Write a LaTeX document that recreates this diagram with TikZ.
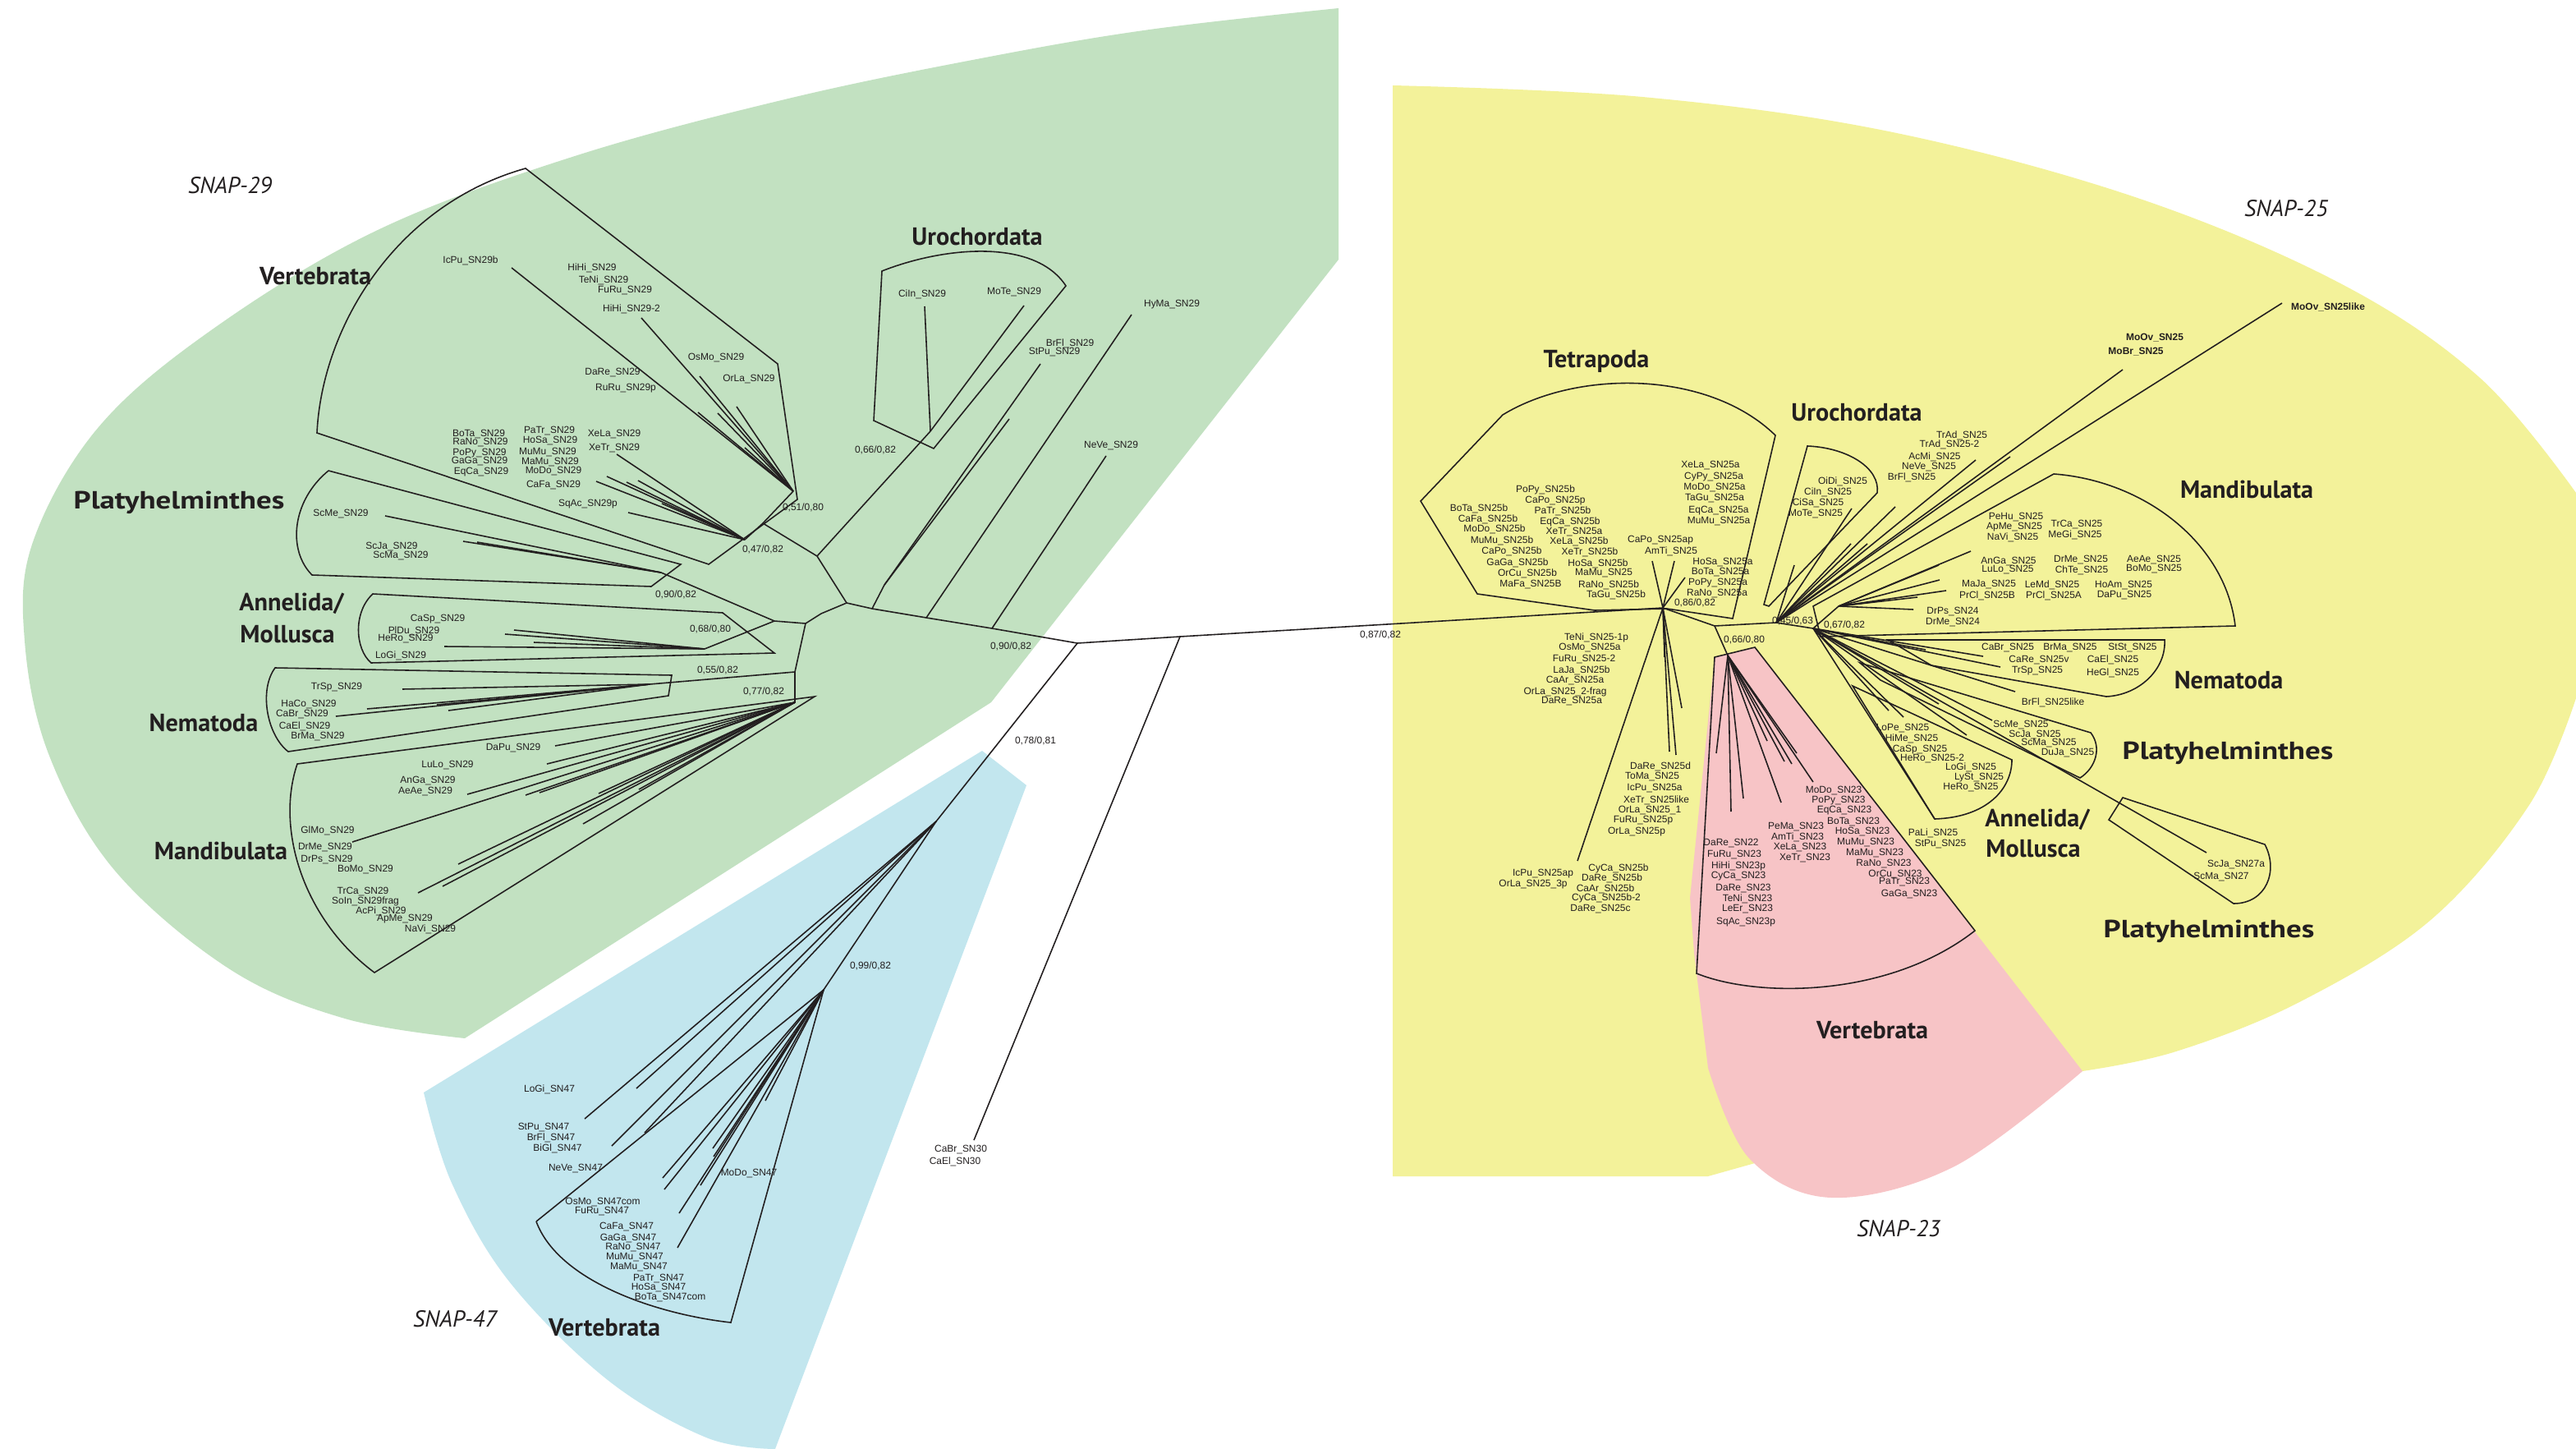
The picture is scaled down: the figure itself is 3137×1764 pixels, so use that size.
\documentclass[tikz,border=0pt]{standalone}
\usepackage{fontspec}
\setmainfont{Liberation Sans}
\newfontfamily\ptsans{PT Sans}
\newcommand\leaffont{\fontsize{3.4}{3.6}\selectfont}
\newcommand\grpfont{\ptsans\bfseries\fontsize{8.6}{9}\selectfont}
\newcommand\snapfont{\ptsans\itshape\fontsize{8}{9}\selectfont}
\definecolor{gfill}{HTML}{C2E1C1}
\definecolor{yfill}{HTML}{F3F29A}
\definecolor{bfill}{HTML}{C2E6EE}
\definecolor{pfill}{HTML}{F7C4C6}
\definecolor{ink}{HTML}{231F20}
\tikzset{
  br/.style={draw=ink, line width=0.45pt, line join=round},
  hull/.style={draw=ink, line width=0.45pt},
  leaf/.style={font=\leaffont, text=ink, inner sep=0pt},
  boldleaf/.style={font=\leaffont\bfseries, text=ink, inner sep=0pt},
  grp/.style={font=\grpfont, text=ink, inner sep=0pt},
  snaplab/.style={font=\snapfont, text=ink, inner sep=0pt},
  supp/.style={font=\leaffont, text=ink, inner sep=0pt},
}
\newcommand\fan[3]{\foreach \x/\y [count=\i] in {#3} {\coordinate (#2\i) at (\x,\y); \draw[br] (#1) -- (#2\i);}}
\newcommand\leaves[2]{\foreach \x/\y/\t [count=\i] in {#2} {\node[leaf] (#1\i) at (\x,\y) {\t};}}
\begin{document}
\begin{tikzpicture}[x=0.01cm,y=-0.01cm]
\useasboundingbox (0,0) rectangle (3137,1764);
% ---------------- backgrounds
\fill[gfill] (566,1264) -- plot[smooth,tension=0.6] coordinates {(566,1264) (420,1240) (280,1180) (140,1060) (60,920) (30,780) (40,660) (120,520) (260,400) (460,280) (700,190) (960,120) (1200,70) (1400,36) (1630,10)} -- (1630,316) -- (1207,855) -- cycle;
\fill[yfill] (1696,1432) -- (1696,104) -- plot[smooth,tension=0.6] coordinates {(1696,104) (2000,118) (2300,160) (2600,240) (2850,345) (3020,460) (3137,600)} -- (3137,850) -- plot[smooth,tension=0.6] coordinates {(3137,850) (3080,980) (2960,1120) (2800,1220) (2650,1280) (2536,1304)} -- (2080,1432) -- cycle;
\fill[bfill] (1196,914) -- (1250,956) -- (944,1764) -- plot[smooth,tension=0.6] coordinates {(944,1764) (860,1750) (740,1680) (620,1560) (550,1440) (516,1330)} -- cycle;
\fill[pfill] (2088,800) -- (2137,788) -- (2536,1304) -- plot[smooth,tension=0.6] coordinates {(2536,1304) (2380,1420) (2230,1458) (2130,1410) (2080,1300)} -- (2063,1160) -- (2058,1093) -- cycle;
% ---------------- green backbone
\coordinate (A) at (1312,783);
\coordinate (gNe) at (1208,765);
\coordinate (gHy) at (1128,752);
\coordinate (gBr) at (1062,741);
\coordinate (gBr2) at (1077,712);
\coordinate (G0) at (1031,734);
\coordinate (gL) at (1000,747);
\coordinate (G2) at (981,759);
\coordinate (N1) at (995,677);
\coordinate (U) at (1133,525);
\coordinate (VR) at (929,637);
\coordinate (V1) at (907,657);
\coordinate (V2) at (966,598);
\coordinate (GA) at (943,756);
\coordinate (P) at (805,697);
\coordinate (An) at (858,790);
\coordinate (Nm) at (968,818);
\coordinate (Ns) at (791,833);
\coordinate (M0) at (968,855);
\draw[br] (A) -- (gNe) -- (gHy) -- (gBr) -- (G0) -- (gL) -- (G2);
\draw[br] (G0) -- (N1) -- (U);
\draw[br] (N1) -- (VR) -- (V1);
\draw[br] (VR) -- (V2);
\draw[br] (gBr) -- (gBr2);
\draw[br] (G2) -- (GA) -- (P);
\draw[br] (GA) -- (An);
\draw[br] (G2) -- (Nm) -- (M0);
\draw[br] (Nm) -- (Ns);
\fan{V2}{va}{623/326,781/387,852/458,897/495,850/502,874/503,907/545}
\fan{V1}{vb}{751/553,777/585,763/587,739/580,726/586,765/624,806/613}
\fan{U}{ua}{1126/373,1247/372}
\fan{gBr2}{bra}{1267/443,1229/510}
\fan{gHy}{hya}{1378/383}
\fan{gNe}{nea}{1347/555}
\fan{P}{pa}{469/628,564/659,581/660}
\fan{An}{ana}{626/767,615/772,650/782,541/787}
\fan{Ns}{nsa}{490/839,447/863,532/858,409/872,546/865}
\fan{M0}{ma}{676/908,666/930,569/967,640/968,657/965,729/966,429/1025,558/1052,539/1079,509/1087,710/1003,778/961}
% green hulls
\draw[hull] (386,527) .. controls (392,400) and (480,250) .. (640,205) -- (947,443) -- (971,608) -- (863,687) -- cycle;
\draw[hull] (400,573) -- (829,687) -- (793,714) -- (380,700) .. controls (350,670) and (355,610) .. (400,573);
\draw[hull] (880,746) -- (454,723) .. controls (430,745) and (432,790) .. (452,807) -- (943,795) -- cycle;
\draw[hull] (818,822) -- (335,813) .. controls (315,840) and (325,895) .. (351,915) -- (814,847) -- cycle;
\draw[hull] (992,848) -- (362,930) .. controls (335,1010) and (370,1120) .. (456,1184) -- cycle;
\draw[hull] (1074,330) .. controls (1150,300) and (1260,290) .. (1298,348) -- (1137,546) -- (1064,512) -- cycle;
% ---------------- centre, SN30, blue
\coordinate (B) at (1437,775);
\coordinate (BR) at (1140,1000);
\coordinate (VB) at (1003,1205);
\draw[br] (A) -- (B);
\draw[br] (A) -- (BR) -- (VB);
\fan{B}{cb}{1186/1388}
\fan{BR}{bra}{712/1362,775/1325,785/1379,745/1395}
\fan{VB}{vba}{807/1434,809/1448,827/1477,825/1519,868/1398,869/1408,853/1443,932/1340}
\draw[hull] (653,1487) -- (1003,1205) -- (890,1610) .. controls (800,1600) and (680,1560) .. (653,1487);
% ---------------- yellow
\coordinate (YT) at (2025,740);
\coordinate (YC) at (2088,762);
\coordinate (YD) at (2125,760);
\coordinate (YE) at (2163,758);
\coordinate (YM) at (2208,765);
\coordinate (MR) at (2239,738);
\coordinate (PK) at (2104,798);
\draw[br] (B) -- (YT) -- (YC) -- (YD) -- (YE) -- (YM) -- (MR);
\draw[br] (YC) -- (PK);
\fan{YT}{ta}{2012/683,2039/683,2052/703,2027/800,2048/862,2041/919,2033/915,1921/1048}
\fan{PK}{pka}{2090/917,2108/988,2123/972,2152/902,2169/977,2173/927,2182/930,2188/917,2208/952}
\fan{YE}{yea}{2255/619,2308/617,2254/662,2274/662,2185/688,2406/560,2448/556,2779/369,2585/450}
\fan{YM}{yma}{2415/799,2436/812,2345/791,2454/842,2426/877,2361/857,2395/895,2300/865,2318/873,2356/997,2687/1038}
\fan{MR}{mra}{2400/671,2361/688,2362/706,2370/719,2335/727,2330/742,2295/731}
% yellow hulls
\draw[hull] (1730,610) -- (1830,505) .. controls (1920,450) and (2080,450) .. (2162,530) -- (2110,753) -- (2030,741) -- (1942,743) -- (1799,723) -- cycle;
\draw[hull] (2201,543) .. controls (2250,545) and (2290,570) .. (2286,600) -- (2154,738) -- (2148,736) -- cycle;
\draw[hull] (2501,577) .. controls (2610,585) and (2710,660) .. (2722,762) -- (2217,775) -- (2208,738) -- cycle;
\draw[hull] (2299,779) -- (2636,779) .. controls (2638,815) and (2605,846) .. (2565,848) -- (2352,810) -- cycle;
\draw[hull] (2265,807) -- (2546,892) .. controls (2560,910) and (2552,935) .. (2533,947) -- (2290,828) -- cycle;
\draw[hull] (2256,835) -- (2356,997) .. controls (2420,995) and (2450,960) .. (2450,925) -- cycle;
\draw[hull] (2585,971) -- (2758,1028) .. controls (2775,1060) and (2760,1100) .. (2720,1100) -- (2568,998) -- cycle;
\draw[hull] (2088,800) -- (2137,788) -- (2405,1133) .. controls (2300,1215) and (2140,1215) .. (2066,1185) -- cycle;
% ---------------- leaf labels
\leaves{gl}{573/317/IcPu\_SN29b,721/326/HiHi\_SN29,735/341/TeNi\_SN29,761/354/FuRu\_SN29,769/376/HiHi\_SN29-2,872/436/OsMo\_SN29,912/462/OrLa\_SN29,746/454/DaRe\_SN29,762/473/RuRu\_SN29p,583/529/BoTa\_SN29,585/539/RaNo\_SN29,584/552/PoPy\_SN29,584/562/GaGa\_SN29,586/575/EqCa\_SN29,669/525/PaTr\_SN29,670/537/HoSa\_SN29,667/551/MuMu\_SN29,670/563/MaMu\_SN29,674/574/MoDo\_SN29,674/591/CaFa\_SN29,748/529/XeLa\_SN29,748/546/XeTr\_SN29,716/614/SqAc\_SN29p,415/626/ScMe\_SN29,477/666/ScJa\_SN29,488/677/ScMa\_SN29,533/754/CaSp\_SN29,504/768/PlDu\_SN29,494/778/HeRo\_SN29,488/798/LoGi\_SN29,410/837/TrSp\_SN29,376/858/HaCo\_SN29,368/870/CaBr\_SN29,371/884/CaEl\_SN29,387/897/BrMa\_SN29,625/911/DaPu\_SN29,545/932/LuLo\_SN29,521/951/AnGa\_SN29,518/964/AeAe\_SN29,399/1011/GlMo\_SN29,396/1032/DrMe\_SN29,398/1047/DrPs\_SN29,445/1059/BoMo\_SN29,442/1086/TrCa\_SN29,445/1097/SoIn\_SN29frag,464/1109/AcPi\_SN29,493/1119/ApMe\_SN29,524/1131/NaVi\_SN29,1123/358/CiIn\_SN29,1235/356/MoTe\_SN29,1303/418/BrFl\_SN29,1284/429/StPu\_SN29,1427/371/HyMa\_SN29,1353/543/NeVe\_SN29}
\leaves{bl}{669/1326/LoGi\_SN47,662/1372/StPu\_SN47,671/1385/BrFl\_SN47,679/1398/BiGl\_SN47,701/1422/NeVe\_SN47,912/1428/MoDo\_SN47,734/1463/OsMo\_SN47com,733/1474/FuRu\_SN47,763/1493/CaFa\_SN47,765/1507/GaGa\_SN47,771/1518/RaNo\_SN47,773/1530/MuMu\_SN47,778/1542/MaMu\_SN47,802/1556/PaTr\_SN47,802/1567/HoSa\_SN47,816/1579/BoTa\_SN47com,1170/1399/CaBr\_SN30,1163/1414/CaEl\_SN30}
\leaves{tl}{1882/596/PoPy\_SN25b,1894/610/CaPo\_SN25p,1903/622/PaTr\_SN25b,1912/635/EqCa\_SN25b,1917/648/XeTr\_SN25a,1923/659/XeLa\_SN25b,1936/672/XeTr\_SN25b,1946/686/HoSa\_SN25b,1953/698/MaMu\_SN25,1959/712/RaNo\_SN25b,1968/724/TaGu\_SN25b,1801/619/BoTa\_SN25b,1812/632/CaFa\_SN25b,1820/644/MoDo\_SN25b,1829/658/MuMu\_SN25b,1841/671/CaPo\_SN25b,1848/685/GaGa\_SN25b,1860/698/OrCu\_SN25b,1864/712/MaFa\_SN25B,2083/567/XeLa\_SN25a,2087/581/CyPy\_SN25a,2088/594/MoDo\_SN25a,2088/607/TaGu\_SN25a,2093/622/EqCa\_SN25a,2093/635/MuMu\_SN25a,2022/658/CaPo\_SN25ap,2035/671/AmTi\_SN25,2098/685/HoSa\_SN25a,2095/697/BoTa\_SN25a,2092/710/PoPy\_SN25a,2091/723/RaNo\_SN25a,1944/776/TeNi\_SN25-1p,1936/789/OsMo\_SN25a,1929/803/FuRu\_SN25-2,1926/816/LaJa\_SN25b,1918/829/CaAr\_SN25a,1906/842/OrLa\_SN25\_2-frag,1914/854/DaRe\_SN25a,2022/933/DaRe\_SN25d,2012/946/ToMa\_SN25,2015/960/IcPu\_SN25a,2017/974/XeTr\_SN25like,2009/987/OrLa\_SN25\_1,2001/999/FuRu\_SN25p,1993/1013/OrLa\_SN25p,1879/1064/IcPu\_SN25ap,1867/1077/OrLa\_SN25\_3p,1971/1057/CyCa\_SN25b,1963/1069/DaRe\_SN25b,1955/1082/CaAr\_SN25b,1956/1093/CyCa\_SN25b-2,1949/1107/DaRe\_SN25c}
\leaves{yl}{2389/530/TrAd\_SN25,2374/541/TrAd\_SN25-2,2356/556/AcMi\_SN25,2349/569/NeVe\_SN25,2328/581/BrFl\_SN25,2244/586/OiDi\_SN25,2226/599/CiIn\_SN25,2214/612/CiSa\_SN25,2211/626/MoTe\_SN25,2455/630/PeHu\_SN25,2453/642/ApMe\_SN25,2451/654/NaVi\_SN25,2529/639/TrCa\_SN25,2527/651/MeGi\_SN25,2446/684/AnGa\_SN25,2445/694/LuLo\_SN25,2534/682/DrMe\_SN25,2535/694/ChTe\_SN25,2623/682/AeAe\_SN25,2623/693/BoMo\_SN25,2422/712/MaJa\_SN25,2420/725/PrCl\_SN25B,2499/712/LeMd\_SN25,2501/725/PrCl\_SN25A,2586/713/HoAm\_SN25,2587/725/DaPu\_SN25,2378/745/DrPs\_SN24,2378/758/DrMe\_SN24,2445/789/CaBr\_SN25,2521/789/BrMa\_SN25,2597/789/StSt\_SN25,2483/804/CaRe\_SN25v,2481/817/TrSp\_SN25,2573/803/CaEl\_SN25,2573/819/HeGl\_SN25,2500/855/BrFl\_SN25like,2461/883/ScMe\_SN25,2478/895/ScJa\_SN25,2495/905/ScMa\_SN25,2518/917/DuJa\_SN25,2317/887/LoPe\_SN25,2328/899/HiMe\_SN25,2338/913/CaSp\_SN25,2353/924/HeRo\_SN25-2,2400/934/LoGi\_SN25,2410/947/LySt\_SN25,2400/959/HeRo\_SN25,2354/1014/PaLi\_SN25,2363/1028/StPu\_SN25,2723/1053/ScJa\_SN27a,2705/1068/ScMa\_SN27}
\leaves{pl}{2108/1027/DaRe\_SN22,2112/1041/FuRu\_SN23,2117/1054/HiHi\_SN23p,2117/1067/CyCa\_SN23,2123/1082/DaRe\_SN23,2128/1094/TeNi\_SN23,2128/1107/LeEr\_SN23,2126/1123/SqAc\_SN23p,2233/963/MoDo\_SN23,2239/975/PoPy\_SN23,2246/987/EqCa\_SN23,2257/1001/BoTa\_SN23,2268/1013/HoSa\_SN23,2272/1026/MuMu\_SN23,2283/1039/MaMu\_SN23,2294/1052/RaNo\_SN23,2308/1065/OrCu\_SN23,2319/1074/PaTr\_SN23,2325/1089/GaGa\_SN23,2187/1007/PeMa\_SN23,2189/1019/AmTi\_SN23,2192/1032/XeLa\_SN23,2198/1045/XeTr\_SN23}
\node[boldleaf] (mo1) at (2835,374) {MoOv\_SN25like};
\node[boldleaf] (mo2) at (2624,411) {MoOv\_SN25};
\node[boldleaf] (mo3) at (2601,428) {MoBr\_SN25};
% ---------------- support values
\node[supp] (s1) at (978,618) {0,51/0,80};
\node[supp] (s2) at (929,669) {0,47/0,82};
\node[supp] (s3) at (823,724) {0,90/0,82};
\node[supp] (s4) at (865,766) {0,68/0,80};
\node[supp] (s5) at (874,816) {0,55/0,82};
\node[supp] (s6) at (930,842) {0,77/0,82};
\node[supp] (s7) at (1066,548) {0,66/0,82};
\node[supp] (s8) at (1231,787) {0,90/0,82};
\node[supp] (s9) at (1261,902) {0,78/0,81};
\node[supp] (s10) at (1681,773) {0,87/0,82};
\node[supp] (s11) at (1060,1176) {0,99/0,82};
\node[supp] (s12) at (2064,734) {0,86/0,82};
\node[supp] (s13) at (2124,779) {0,66/0,80};
\node[supp] (s14) at (2183,756) {0,45/0,63};
\node[supp] (s15) at (2246,761) {0,67/0,82};
% ---------------- group labels
\node[snaplab] (n29) at (280,226) {SNAP-29};
\node[snaplab] (n25) at (2784,254) {SNAP-25};
\node[snaplab] (n23) at (2312,1496) {SNAP-23};
\node[snaplab] (n47) at (554,1606) {SNAP-47};
\node[grp] (c1) at (384,336) {Vertebrata};
\node[grp] (c2) at (1190,288) {Urochordata};
\node[grp] (c3) at (218,612) {\scalebox{1.22}[1]{Platyhelminthes}};
\node[grp] (c4) at (355,735) {Annelida/};
\node[grp] (c5) at (350,772) {Mollusca};
\node[grp] (c6) at (248,880) {Nematoda};
\node[grp] (c7) at (269,1036) {Mandibulata};
\node[grp] (c8) at (736,1616) {Vertebrata};
\node[grp] (c9) at (1944,440) {Tetrapoda};
\node[grp] (c10) at (2261,502) {Urochordata};
\node[grp] (c11) at (2736,596) {Mandibulata};
\node[grp] (c12) at (2714,828) {Nematoda};
\node[grp] (c13) at (2713,917) {\scalebox{1.22}[1]{Platyhelminthes}};
\node[grp] (c14) at (2481,998) {Annelida/};
\node[grp] (c15) at (2476,1033) {Mollusca};
\node[grp] (c16) at (2690,1134) {\scalebox{1.22}[1]{Platyhelminthes}};
\node[grp] (c17) at (2280,1254) {Vertebrata};
\end{tikzpicture}
\end{document}
